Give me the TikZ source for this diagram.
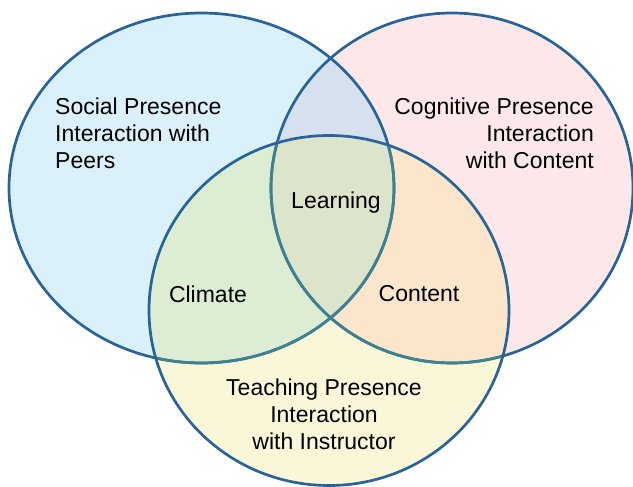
\documentclass[tikz,border=0pt]{standalone}
\usepackage{fontspec}
\setmainfont{Liberation Sans}
\definecolor{fillL}{HTML}{DAF0FA}
\definecolor{fillR}{HTML}{FCE8E8}
\definecolor{fillB}{HTML}{FAF7D9}
\definecolor{fillLR}{HTML}{D6E0EE}
\definecolor{fillLB}{HTML}{DCEDD4}
\definecolor{fillRB}{HTML}{FBE6CB}
\definecolor{fillLRB}{HTML}{DCE4CC}
\definecolor{edgeblue}{HTML}{28649A}
\definecolor{edgeteal}{HTML}{3E8291}
\begin{document}
\begin{tikzpicture}[x=1pt,y=-1pt,
  outline/.style={line width=2.7pt},
  label/.style={font=\fontsize{23}{27}\selectfont, inner sep=0pt, text=black}]
\useasboundingbox (0,0) rectangle (633,487);
\def\Lell{(201.5,188) ellipse [x radius=192.5, y radius=175]}
\def\Rell{(452,188) ellipse [x radius=181, y radius=175]}
\def\Bell{(329,310.5) ellipse [x radius=180, y radius=175]}
% base fills
\fill[fillL] \Lell;
\fill[fillR] \Rell;
\fill[fillB] \Bell;
% overlaps
\begin{scope}
  \clip \Lell;
  \fill[fillLR] \Rell;
  \fill[fillLB] \Bell;
\end{scope}
\begin{scope}
  \clip \Rell;
  \fill[fillRB] \Bell;
  \clip \Lell;
  \fill[fillLRB] \Bell;
\end{scope}
% outlines
\draw[outline, edgeblue] \Lell;
\draw[outline, edgeblue] \Rell;
\begin{scope}
  \clip \Bell;
  \draw[outline, edgeteal] \Lell;
  \draw[outline, edgeteal] \Rell;
\end{scope}
\draw[outline, edgeblue] \Bell;
% labels
\node[label, anchor=west, align=left] (social) at (55,133) {Social Presence\\Interaction with\\Peers};
\node[label, anchor=east, align=right] (cognitive) at (594,133) {Cognitive Presence\\Interaction\\with Content};
\node[label] (learning) at (336,203) {Learning};
\node[label] (climate) at (208,294) {Climate};
\node[label] (content) at (419,294) {Content};
\node[label, align=center] (teaching) at (324,414) {Teaching Presence\\Interaction\\with Instructor};
\end{tikzpicture}
\end{document}
